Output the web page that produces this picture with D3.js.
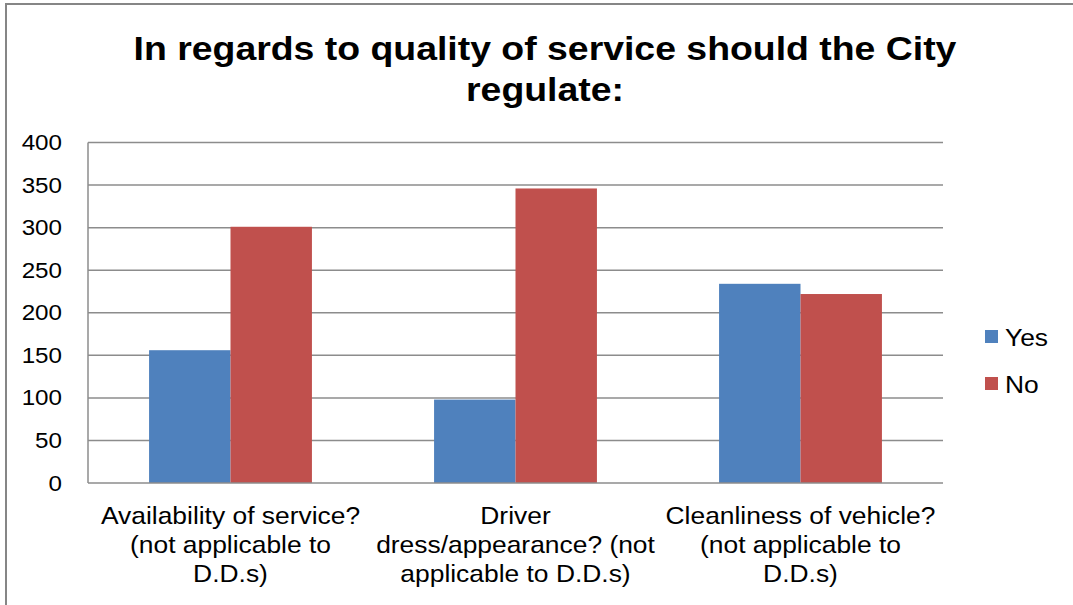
<!DOCTYPE html>
<html><head><meta charset="utf-8">
<script src="https://cdn.jsdelivr.net/npm/d3@7/dist/d3.min.js"></script>
<style>body{margin:0;background:#fff}svg{display:block}text{font-family:"Liberation Sans",Arial,sans-serif}</style>
</head><body><svg id="c" width="1073" height="605"></svg>
<script>
const categories = [
  ["Availability of service?", "(not applicable to", "D.D.s)"],
  ["Driver", "dress/appearance? (not", "applicable to D.D.s)"],
  ["Cleanliness of vehicle?", "(not applicable to", "D.D.s)"]
];
const seriesNames = ["Yes", "No"];
const yesValues = [156, 98, 234];
const noValues = [301, 346, 222];
const yTicks = [0, 50, 100, 150, 200, 250, 300, 350, 400];
const colors = ["#4F81BD", "#C0504D"];
const titleLines = ["In regards to quality of service should the City", "regulate:"];

const SX = 1.1; // horizontal text stretch seen in the reference
const svg = d3.select("#c");
const m = {left: 88, right: 943, top: 142.5, bottom: 483};
svg.append("rect").attr("x", 6).attr("y", 4).attr("width", 1080).attr("height", 620)
  .attr("fill", "#fff").attr("stroke", "#868686").attr("stroke-width", 2);

const x0 = d3.scaleBand().domain(d3.range(categories.length)).range([m.left, m.right]).paddingInner(0).paddingOuter(0);
const bw = x0.bandwidth() / 3.5;
const x1 = d3.scaleBand().domain(seriesNames).range([0.75 * bw, 2.75 * bw]);
const y = d3.scaleLinear().domain([0, 400]).range([m.bottom, m.top]);

// gridlines
svg.append("g").selectAll("line").data(yTicks.filter(d => d > 0)).join("line")
  .attr("x1", m.left).attr("x2", m.right).attr("y1", d => y(d)).attr("y2", d => y(d))
  .attr("stroke", "#8c8c8c").attr("stroke-width", 1.5);

const data = [yesValues, noValues];
seriesNames.forEach((s, si) => {
  svg.append("g").selectAll("rect").data(data[si]).join("rect")
    .attr("x", (d, i) => x0(i) + x1(s)).attr("width", x1.bandwidth())
    .attr("y", d => y(d)).attr("height", d => y(0) - y(d)).attr("fill", colors[si]);
});

// axes lines
svg.append("line").attr("x1", m.left).attr("x2", m.left).attr("y1", m.top).attr("y2", m.bottom).attr("stroke", "#8c8c8c").attr("stroke-width", 1.5);
svg.append("line").attr("x1", m.left).attr("x2", m.right).attr("y1", m.bottom).attr("y2", m.bottom).attr("stroke", "#8c8c8c").attr("stroke-width", 1.5);

// y tick labels (axis drawn through d3, stretched horizontally)
const yAxis = d3.axisLeft(y).tickValues(yTicks).tickSize(0).tickPadding(0);
const ga = svg.append("g").attr("transform", `translate(${m.left - 26},0)`).call(yAxis);
ga.select(".domain").remove();
ga.selectAll("text").attr("font-size", 22).attr("fill", "#000").attr("font-family", '"Liberation Sans",Arial,sans-serif')
  .attr("transform", `scale(${SX},1)`);

// category labels
categories.forEach((lines, i) => {
  const g = svg.append("g").attr("transform", `translate(${x0(i) + x0.bandwidth() / 2},0) scale(${SX},1)`);
  const t = g.append("text").attr("text-anchor", "middle").attr("font-size", 24).attr("fill", "#000");
  lines.forEach((l, j) => t.append("tspan").attr("x", 0).attr("y", 524 + j * 29).text(l));
});

// title
const tg = svg.append("g").attr("transform", `translate(545,0) scale(${SX},1)`);
const tt = tg.append("text").attr("text-anchor", "middle").attr("font-size", 34).attr("font-weight", "bold");
titleLines.forEach((l, j) => tt.append("tspan").attr("x", 0).attr("y", 60 + j * 41).text(l));

// legend
seriesNames.forEach((s, i) => {
  const g = svg.append("g").attr("transform", `translate(985,${330 + i * 47})`);
  g.append("rect").attr("width", 13).attr("height", 13).attr("fill", colors[i]);
  g.append("text").attr("transform", `translate(20,16) scale(${SX},1)`).attr("font-size", 24).text(s);
});
</script></body></html>
